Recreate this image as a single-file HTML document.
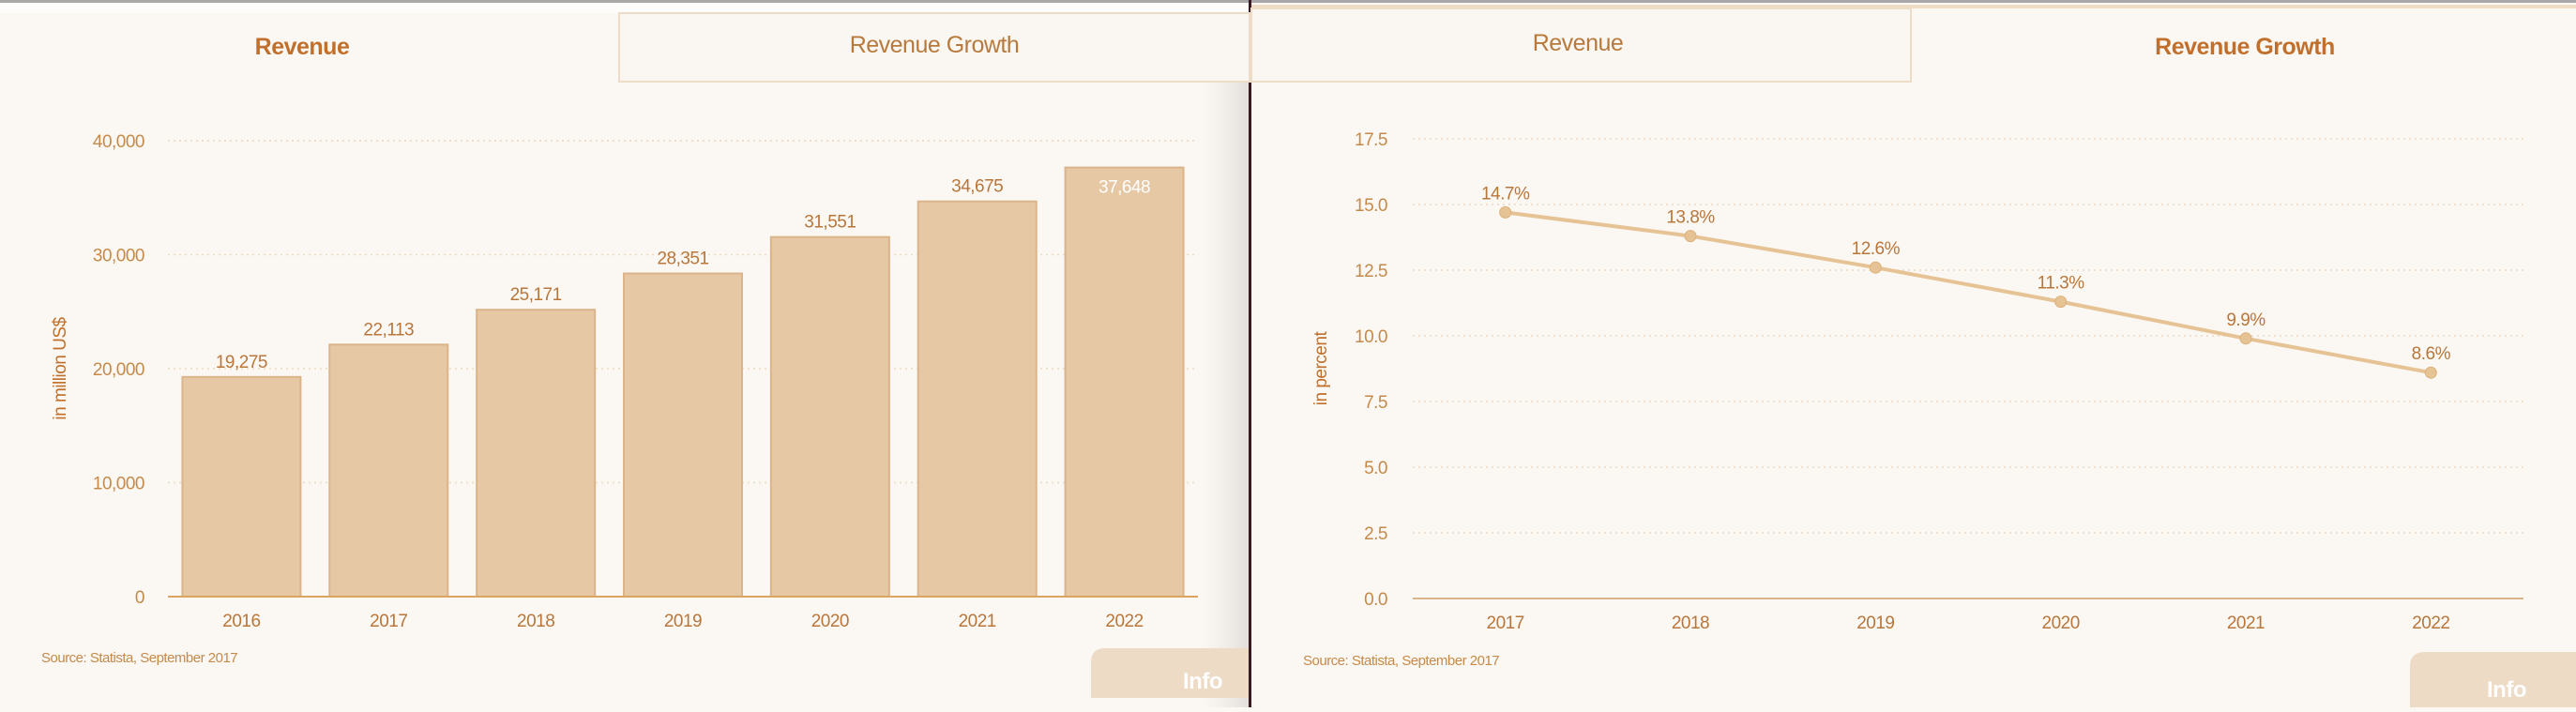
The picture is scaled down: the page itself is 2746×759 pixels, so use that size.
<!DOCTYPE html>
<html><head><meta charset="utf-8"><style>
body{margin:0;width:2746px;height:754px;overflow:hidden;background:#fbf8f4;font-family:"Liberation Sans Narrow","Liberation Sans",sans-serif;}
svg text{font-family:"Liberation Sans Narrow","Liberation Sans",sans-serif;letter-spacing:-0.5px;}
</style></head><body>
<svg width="2746" height="754">
<rect x="0" y="0" width="2746" height="754" fill="#fbf8f4"/>
<defs><linearGradient id="sh" x1="0" x2="1"><stop offset="0" stop-color="#ebe8e4" stop-opacity="0"/><stop offset="1" stop-color="#e2dedb"/></linearGradient></defs>
<rect x="1280" y="0" width="52" height="754" fill="url(#sh)"/>
<rect x="0" y="0" width="1332" height="14" fill="#fdfcfb"/>
<rect x="0" y="0" width="2746" height="3" fill="#a8a8a8"/>
<rect x="1331" y="0" width="3" height="754" fill="#3a1a22"/>
<g>
<text x="322" y="58" text-anchor="middle" font-size="25" font-weight="bold" fill="#c0702c">Revenue</text>
<rect x="660" y="14" width="672" height="73" fill="#faf6f1" stroke="#ecdcc8" stroke-width="2"/>
<text x="996" y="56" text-anchor="middle" font-size="25" fill="#b87a3c">Revenue Growth</text>
</g>
<g>
<rect x="1334" y="5" width="1412" height="4" fill="#f0dcc4"/>
<rect x="1334" y="9" width="703" height="78" fill="#faf6f1" stroke="#ecdcc8" stroke-width="2"/>
<text x="1682" y="54" text-anchor="middle" font-size="25" fill="#b87a3c">Revenue</text>
<text x="2393" y="58" text-anchor="middle" font-size="25" font-weight="bold" fill="#c0702c">Revenue Growth</text>
</g>
<g id="left"></g>
<g id="right"></g>
<text x="44" y="706" font-size="15" fill="#c58a4a">Source: Statista, September 2017</text>
<text x="1389" y="709" font-size="15" fill="#c58a4a">Source: Statista, September 2017</text>
<g><path d="M1163,744 V706 Q1163,691 1178,691 H1331 V744 Z" fill="#eedbc6"/><text x="1282" y="734" text-anchor="middle" font-size="24" font-weight="bold" fill="#fff">Info</text></g>
<g><path d="M2569,754 V711 Q2569,695 2585,695 H2746 V754 Z" fill="#eedbc6"/><text x="2672" y="743" text-anchor="middle" font-size="24" font-weight="bold" fill="#fff">Info</text></g>
</svg>
<script>
const revYears=["2016","2017","2018","2019","2020","2021","2022"];
const revValues=[19275,22113,25171,28351,31551,34675,37648];
const revTicks=[0,10000,20000,30000,40000];
const grYears=["2017","2018","2019","2020","2021","2022"];
const grValues=[14.7,13.8,12.6,11.3,9.9,8.6];
const grTicks=[0,2.5,5,7.5,10,12.5,15,17.5];
const NS="http://www.w3.org/2000/svg";
function mk(p,t,a){const e=document.createElementNS(NS,t);for(const k in a)e.setAttribute(k,a[k]);p.appendChild(e);return e;}
const fmt=v=>v.toLocaleString('en-US');
(function(){
const g=document.getElementById('left');
const x0=179,x1=1277,y0=636,y1=150,max=40000;
const ys=v=>y0-(v/max)*(y0-y1);
const band=(x1-x0)/revYears.length;
revTicks.forEach(t=>{
 if(t>0){const l=mk(g,'line',{x1:x0,x2:x1,y1:ys(t),y2:ys(t),stroke:'#ecd9c2','stroke-width':1.5,'stroke-dasharray':'2,4'});
 
 }
 const tx=mk(g,'text',{x:154,y:ys(t)+7,'text-anchor':'end','font-size':19,fill:'#c58a4a'});tx.textContent=fmt(t);
 
 
});
revValues.forEach((v,i)=>{
 const cx=x0+band*(i+0.5),w=126;
 const r=mk(g,'rect',{x:cx-w/2,y:ys(v),width:w,height:y0-ys(v),fill:'#e6c8a5',stroke:'#dcb48a','stroke-width':2});
 
 
 const inside=ys(v)<190;
 const t=mk(g,'text',{x:cx,y:inside?ys(v)+27:ys(v)-10,'text-anchor':'middle','font-size':19,fill:inside?'#fff':'#b8763a'});t.textContent=fmt(v);
 
 
 const xl=mk(g,'text',{x:cx,y:668,'text-anchor':'middle','font-size':19,fill:'#b8763a'});xl.textContent=revYears[i];
 
 
});
const ax=mk(g,'line',{x1:x0,x2:x1,y1:y0,y2:y0,stroke:'#d9a560','stroke-width':2});


const yt=mk(g,'text',{x:0,y:0,transform:'translate(70,393) rotate(-90)','text-anchor':'middle','font-size':19,fill:'#c0702c'});yt.textContent='in million US$';


})();
(function(){
const g=document.getElementById('right');
const x0=1506,x1=2690,y0=638,y1=148,max=17.5;
const ys=v=>y0-(v/max)*(y0-y1);
const band=(x1-x0)/grYears.length;
grTicks.forEach(t=>{
 if(t>0){const l=mk(g,'line',{x1:x0,x2:x1,y1:ys(t),y2:ys(t),stroke:'#ecd9c2','stroke-width':1.5,'stroke-dasharray':'2,4'});
 
 }
 const tx=mk(g,'text',{x:1479,y:ys(t)+7,'text-anchor':'end','font-size':19,fill:'#c58a4a'});tx.textContent=t.toFixed(1);
 
 
});
const ax=mk(g,'line',{x1:x0,x2:x1,y1:y0,y2:y0,stroke:'#dcb48a','stroke-width':2});


const pts=grValues.map((v,i)=>[x0+band*(i+0.5),ys(v)]);
const pl=mk(g,'polyline',{points:pts.map(p=>p.join(',')).join(' '),fill:'none',stroke:'#e6c394','stroke-width':4});


grValues.forEach((v,i)=>{
 const c=mk(g,'circle',{cx:pts[i][0],cy:pts[i][1],r:6,fill:'#e6c394',stroke:'#ddb07a','stroke-width':1});
 
 
 const t=mk(g,'text',{x:pts[i][0],y:pts[i][1]-14,'text-anchor':'middle','font-size':19,fill:'#b8763a'});t.textContent=v.toFixed(1)+'%';
 
 
 const xl=mk(g,'text',{x:pts[i][0],y:670,'text-anchor':'middle','font-size':19,fill:'#b8763a'});xl.textContent=grYears[i];
 
 
});
const yt=mk(g,'text',{x:0,y:0,transform:'translate(1414,393) rotate(-90)','text-anchor':'middle','font-size':19,fill:'#c0702c'});yt.textContent='in percent';


})();
</script>
</body></html>
